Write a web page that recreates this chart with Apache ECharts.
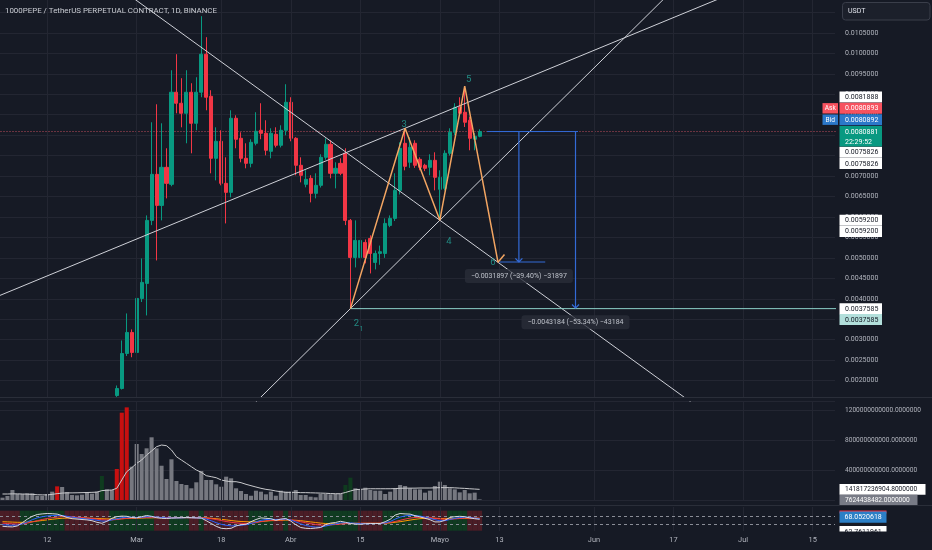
<!DOCTYPE html>
<html><head><meta charset="utf-8">
<script src="https://cdn.jsdelivr.net/npm/echarts@6/dist/echarts.min.js"></script>
<style>html,body{margin:0;padding:0;background:#161a25;}#c{width:932px;height:550px;}</style>
</head><body><div id="c"></div>
<script>
// ---------- axis / categories ----------
const START_DATE = [2024, 1, 3];      // 2024-02-03
const DAY_COUNT = 168;
const timeTicks = [['2024-02-12','12'],['2024-03-01','Mar'],['2024-03-18','18'],['2024-04-01','Abr'],['2024-04-15','15'],['2024-05-01','Mayo'],['2024-05-13','13'],['2024-06-01','Jun'],['2024-06-17','17'],['2024-07-01','Jul'],['2024-07-15','15']];
const titleText = '1000PEPE / TetherUS PERPETUAL CONTRACT, 1D, BINANCE';

// ---------- candles (1D) ----------
const open = [0.00112,0.00110,0.00108,0.00111,0.00110,0.00112,0.00111,0.00113,0.00114,0.00115,0.00121,0.00128,0.00124,0.00126,0.00125,0.00127,0.00129,0.00128,0.00131,0.00133,0.00136,0.00138,0.00142,
0.001634,0.001806,0.002662,0.003176,0.002687,0.004008,0.004375,0.005916,0.007042,0.006283,
0.007213,0.006797,0.009049,0.008780,0.008535,0.009049,0.008290,0.009049,0.009979,0.008951,
0.007434,0.007850,0.006822,0.006601,0.008413,0.007923,0.007434,0.007311,0.007801,0.008119,
0.008046,0.007605,0.008021,0.007752,0.008119,0.008804,0.007923,0.007263,0.006797,0.006944,
0.006577,0.006773,0.007458,0.007776,0.007067,0.007311,0.007556,0.005916,0.005010,0.005010,
0.005377,0.005475,0.004888,0.005108,0.005108,0.005793,0.005965,0.006650,0.007801,0.007336,
0.007801,0.007409,0.007263,0.007213,0.007385,0.006675,0.006699,0.007556,0.008070,0.008682,
0.008560,0.008364,0.007899,0.007972];
const close = [0.00110,0.00108,0.00111,0.00110,0.00112,0.00111,0.00113,0.00114,0.00115,0.00121,0.00128,0.00124,0.00126,0.00125,0.00127,0.00129,0.00128,0.00131,0.00133,0.00136,0.00138,0.00142,0.00146,
0.001806,0.002662,0.003176,0.002687,0.004008,0.004400,0.005916,0.007042,0.006283,0.007213,
0.006822,0.009049,0.008780,0.008535,0.009049,0.008290,0.009049,0.009979,0.008927,0.007434,
0.007850,0.006822,0.006601,0.008413,0.007899,0.007434,0.007311,0.007825,0.008095,0.008046,
0.007630,0.008046,0.007752,0.008119,0.008804,0.007923,0.007263,0.007018,0.006920,0.006577,
0.006773,0.007458,0.007776,0.007067,0.007189,0.007067,0.005916,0.005010,0.005426,0.005426,
0.005010,0.005108,0.005108,0.005150,0.005842,0.005965,0.006650,0.007679,0.007238,0.007703,
0.007263,0.007213,0.007189,0.007385,0.006969,0.006969,0.007556,0.008070,0.008682,0.008535,
0.008315,0.007923,0.007972,0.008088];
const high = [0.00115,0.00113,0.00113,0.00114,0.00114,0.00115,0.00115,0.00117,0.00118,0.00123,0.00131,0.00133,0.00128,0.00129,0.00129,0.00132,0.00131,0.00133,0.00135,0.00139,0.00141,0.00145,0.00149,
0.001879,0.002980,0.003641,0.003250,0.004326,0.004986,0.006038,0.008315,0.008755,0.008290,
0.007679,0.009587,0.009979,0.009392,0.009587,0.009269,0.009416,0.010909,0.010395,0.009098,
0.008192,0.008119,0.007458,0.008608,0.008486,0.008070,0.007801,0.007900,0.008560,0.008780,
0.008364,0.008168,0.008192,0.008241,0.009245,0.008927,0.007950,0.007458,0.007140,0.007020,
0.007067,0.007532,0.007923,0.007874,0.007336,0.007434,0.007679,0.005950,0.005916,0.005480,
0.005450,0.005550,0.005180,0.005300,0.005965,0.006038,0.007067,0.007825,0.008168,0.007948,
0.007874,0.007458,0.007300,0.007532,0.007581,0.007140,0.007630,0.008168,0.008780,0.008927,
0.009196,0.008450,0.008050,0.008144];
const low = [0.00107,0.00105,0.00105,0.00108,0.00107,0.00109,0.00108,0.00110,0.00111,0.00112,0.00118,0.00121,0.00122,0.00122,0.00123,0.00124,0.00125,0.00126,0.00128,0.00130,0.00133,0.00135,0.00139,
0.001600,0.001780,0.002600,0.002570,0.002650,0.003920,0.003592,0.005800,0.004937,0.005916,
0.006454,0.006750,0.008535,0.008192,0.007801,0.007556,0.008119,0.008927,0.008608,0.007067,
0.006895,0.006773,0.005842,0.006479,0.007679,0.007336,0.007189,0.007213,0.007750,0.007900,
0.007507,0.007434,0.007700,0.007700,0.007997,0.007850,0.007018,0.006846,0.006724,0.006357,
0.006454,0.006720,0.007400,0.006944,0.006699,0.007020,0.005800,0.0037585,0.004766,0.004766,
0.004864,0.004619,0.004717,0.004830,0.005000,0.005750,0.005900,0.006550,0.007140,0.007200,
0.007200,0.007140,0.007120,0.007018,0.006650,0.005920,0.006650,0.007500,0.008000,0.008500,
0.008200,0.007630,0.007630,0.007948];

// ---------- volume (billions) ----------
const volumeB = [31,53,133,80,80,89,89,53,53,80,111,182,173,107,67,62,71,107,84,111,
320,142,133,413,1164,1235,444,747,613,689,836,689,457,280,543,253,213,200,156,236,
387,267,267,209,177,311,289,156,120,80,57,124,111,76,111,57,124,111,111,133,
67,67,44,36,80,80,76,80,80,200,298,156,142,164,133,124,124,80,111,156,
200,187,156,142,142,98,124,187,244,200,156,142,102,133,89,98,7.6];
const volumeMAB = [80,80,82,82,80,78,75,70,68,68,75,85,92,95,95,96,98,100,102,105,
125,130,133,156,267,378,430,489,533,600,653,711,733,724,667,577,533,489,444,400,
369,324,311,297,267,253,244,244,231,209,191,173,156,142,133,120,111,102,102,102,
98,98,96,94,92,90,86,84,84,100,120,138,142,147,150,150,150,150,150,152,
156,158,158,158,160,160,160,162,165,165,165,162,158,155,150,146,142];
const volRedIdx = [11,23,24,25];
const volGreenIdx = [20,69,70];

// ---------- oscillator pane ----------
const oscWhite = [22,20,19,24,40,58,72,81,84,86,85,83,75,66,60,58,56,54,50,42,37,47,62,70,73,72,66,64,70,76,72,65,62,61,63,64,65,66,65,64,63,50,36,22,12,10,12,24,30,32,45,56,64,62,60,52,58,61,48,30,16,12,11,13,16,30,38,41,47,42,36,33,32,35,36,36,36,45,57,78,86,84,83,75,69,62,55,44,44,52,66,70,72,70,64,60,57];
const oscBlue = [30,28,27,28,34,44,55,64,70,74,76,77,76,72,68,64,61,58,56,52,48,48,54,60,65,68,67,66,67,70,70,68,66,64,64,64,64,65,65,64,64,58,50,40,32,27,24,25,27,30,36,44,52,56,58,56,57,58,54,44,34,26,21,18,18,23,29,34,39,40,39,37,35,35,35,36,36,40,46,58,68,74,77,76,73,68,62,55,50,50,56,62,66,68,66,63,60];
const oscRed = [38,36,34,33,34,38,44,50,56,61,65,68,70,70,69,67,65,63,61,58,55,53,54,56,59,62,63,64,65,66,67,67,66,65,65,65,65,65,65,65,65,63,60,56,51,46,42,39,37,36,37,40,45,49,52,53,54,55,54,50,45,40,35,31,28,28,29,31,33,35,36,37,37,37,37,37,37,38,41,46,52,58,63,66,67,67,65,62,59,57,57,59,61,63,63,63,62];
const oscOrange = [45,44,43,42,42,43,45,48,51,54,57,60,62,63,64,64,64,63,62,61,60,59,59,59,60,61,62,63,63,64,64,65,65,65,65,65,65,65,65,65,65,64,62,60,57,54,51,48,46,45,44,45,46,48,50,51,52,53,53,52,50,47,44,41,38,36,35,35,35,36,36,37,37,37,37,37,37,38,39,42,45,49,53,57,60,62,62,62,61,60,60,61,62,62,63,63,62];
const oscBands = 'rrrrgggggggggrrrrrrrrrgggggggggrrrggggrrgrrrrrrrrrgggggrrgrrrrrrrgggggggrrrrrggggggggrrrrrggggrrr';
const oscLevels = [70, 30];

// ---------- drawings (bar index, price) ----------
const lastPrice = 0.0080881;
const wavePoints = [[70,0.0037585],[81,0.008168],[88,0.00592],[93,0.009196],[99.7,0.00489]];
const waveTick = [[99.7,0.00489],[101,0.00508]];
const waveLabels = [['2',70,0.0037585,[6,15],9.5],['1',70,0.0037585,[11,21],7],['3',81,0.008168,[-1,-4],9.5],['4',88,0.00592,[9,21],9.5],['5',93,0.009196,[4,-7],9.5],['6',99.7,0.00489,[-5,0],9.5]];
const trendAnchors = [
  [[88,0.00592],[99.7,0.00489]],
  [[-0.5,0.004082],[81,0.008168]],
  [[70,0.0037585],[88,0.00592]]
];
const supportLevel = 0.0037585;
const supportStart = 70;
const measures = [
  {x:103.9, from:0.0080881, to:0.0048984, left:98.7, right:109.2, bottomLine:true, label:'\u22120.0031897 (\u221239.40%) \u221231897'},
  {x:115.29, from:0.0080881, to:0.0037697, left:97.5, right:115.8, bottomLine:false, label:'\u22120.0043184 (\u221253.34%) \u221243184'}
];
// right-scale tags: [value, text, bg, fg, nudge(px)]
const priceTags = [
  [0.0081888,'0.0081888','#ffffff','#131722',-30.4],
  [0.0080893,'0.0080893','#f7525f','#ffffff',-23.2,'Ask'],
  [0.0080892,'0.0080892','#2b78c9','#ffffff',-11.8,'Bid'],
  [0.0075826,'0.0075826','#ffffff','#131722',0],
  [0.0075826,'0.0075826','#ffffff','#131722',11.4],
  [0.0059200,'0.0059200','#ffffff','#131722',0],
  [0.0059200,'0.0059200','#ffffff','#131722',11.2],
  [0.0037585,'0.0037585','#ffffff','#131722',0],
  [0.0037585,'0.0037585','#b2dfdb','#131722',10.9]
];
const lastTime = '22:29:52';
const volTags = [[141.8172369048,'141817236904.8000000','#ffffff','#131722',0,86],[7.624438482,'7624438482.0000000','#787b86','#ffffff',0.6,78]];
const oscTags = [[68.0520618,'68.0520618','#2b7fc6','#ffffff',0],[62.7611961,'62.7611961','#ffffff','#131722',13.4]];

// ---------- build ----------
const categories = [];
for (let i = 0; i < DAY_COUNT; i++) {
  const d = new Date(Date.UTC(START_DATE[0], START_DATE[1], START_DATE[2] + i));
  categories.push(d.toISOString().slice(0, 10));
}
const tickMap = new Map(timeTicks);
const ohlc = open.map((o, i) => [o, close[i], low[i], high[i]]);

const GRID_COLOR = '#232632';
const FONT = 'Roboto';
const FS = 7.0;      // right scale tags
const FS_VOL = 6.6;  // volume scale
const FS_TIME = 7.4;
const MEASURE_BLUE = '#336ad6';

function extendLine(a, b, x0, x1) {
  const s = (b[1] - a[1]) / (b[0] - a[0]);
  return [[x0, a[1] + s * (x0 - a[0])], [x1, a[1] + s * (x1 - a[0])]];
}
function lineSeries(data, color, width, extra) {
  const base = {type:'line', xAxisIndex:1, yAxisIndex:0, data, symbol:'none', showSymbol:false, silent:true, clip:true, animation:false,
    itemStyle:{color}, lineStyle:{color, width}, emphasis:{disabled:true}, z:5};
  return Object.assign(base, extra || {});
}
function vGrid(xAxisIndex, yAxisIndex) {
  return {type:'line', xAxisIndex, yAxisIndex, data:[], silent:true, z:1, animation:false,
    markLine:{silent:true, symbol:'none', animation:false, label:{show:false}, lineStyle:{color:GRID_COLOR, width:1, type:'solid'},
      data: timeTicks.map(t => ({xAxis:t[0]}))}};
}

const series = [];
series.push(vGrid(0, 0));
// last price dotted line (under candles)
series.push(lineSeries([[-1, lastPrice],[DAY_COUNT, lastPrice]], '#c4505e', 1, {z:2, lineStyle:{color:'#c4505e', width:1, type:[1,2]}}));
series.push({type:'candlestick', xAxisIndex:0, yAxisIndex:0, data:ohlc, barWidth:3.6, clip:true, z:3,
  itemStyle:{color:'#089981', color0:'#f23645', borderColor:'#089981', borderColor0:'#f23645', borderWidth:1}});
// trend lines
trendAnchors.forEach(t => series.push(lineSeries(extendLine(t[0], t[1], -40, 220), '#cfd1d8', 1)));
// support
series.push(lineSeries([[supportStart, supportLevel],[220, supportLevel]], '#8ccfc8', 1));
// measures: one polyline per measure (top line, shaft, arrow head) + optional bottom line
measures.forEach(m => {
  series.push(lineSeries([[m.left, m.from],[m.right, m.from]], MEASURE_BLUE, 1, {z:7}));
  if (m.bottomLine) series.push(lineSeries([[m.left + 1.3, m.to],[m.right, m.to]], MEASURE_BLUE, 1, {z:7}));
  series.push(lineSeries([[m.x, m.from],[m.x, m.to],[m.x - 0.7, m.to + 0.00009]], MEASURE_BLUE, 1.2, {z:7}));
  series.push(lineSeries([[m.x, m.to],[m.x + 0.7, m.to + 0.00009]], MEASURE_BLUE, 1.2, {z:7}));
});
// zigzag
series.push(lineSeries(wavePoints, '#f3a562', 1.5, {z:6}));
series.push(lineSeries(waveTick, '#f3a562', 1.5, {z:6}));
// wave labels
series.push({type:'scatter', xAxisIndex:1, yAxisIndex:0, symbolSize:0, silent:true, z:8, animation:false,
  data: waveLabels.map(w => ({value:[w[1], w[2]], label:{show:true, position:'inside', formatter:w[0], offset:w[3], fontSize:w[4], color:'#26a69a', fontFamily:FONT}}))});
// measure labels
series.push({type:'scatter', xAxisIndex:1, yAxisIndex:0, symbolSize:0, silent:true, z:9, animation:false,
  data: measures.map(m => ({value:[m.x, m.to], label:{show:true, position:'inside', formatter:m.label, offset:[0,14],
    fontSize:FS, color:'#e0e3eb', fontFamily:FONT, backgroundColor:'rgba(42,46,57,0.96)', padding:[4,6,3,6], borderRadius:3}}))});

// volume
series.push(vGrid(2, 1));
series.push({type:'bar', xAxisIndex:2, yAxisIndex:1, barCategoryGap:'18%', z:3, animation:false,
  data: volumeB.map((v, i) => ({value:v, itemStyle:{color: volRedIdx.includes(i) ? '#c81010' : volGreenIdx.includes(i) ? '#0f3b1f' : '#767880'}}))});
series.push({type:'line', xAxisIndex:2, yAxisIndex:1, data:volumeMAB, symbol:'none', z:4, animation:false, lineStyle:{color:'#c8c9cc', width:1}});

// oscillator
series.push(vGrid(3, 2));
series.push({type:'bar', xAxisIndex:3, yAxisIndex:2, barCategoryGap:'0%', barWidth:'100%', z:2, animation:false,
  data: oscBands.split('').map(c => ({value:100, itemStyle:{color: c === 'r' ? '#4b1d26' : '#103b21'}}))});
series.push({type:'line', xAxisIndex:3, yAxisIndex:2, data:[], silent:true, z:3, animation:false,
  markLine:{silent:true, symbol:'none', animation:false, label:{show:false}, lineStyle:{color:'#8a8d97', type:[3,3], width:1},
    data: oscLevels.map(v => ({yAxis:v}))}});
[[oscOrange,'#ff9800'],[oscRed,'#f23645'],[oscBlue,'#2962ff'],[oscWhite,'#d6d8de']].forEach((p, k) => {
  series.push({type:'line', xAxisIndex:3, yAxisIndex:2, data:p[0], symbol:'none', z:4 + k, animation:false, lineStyle:{color:p[1], width:1}});
});

const catBase = {type:'category', data:categories, boundaryGap:true, axisLine:{show:false}, axisTick:{show:false}, axisLabel:{show:false}, splitLine:{show:false}};
const gridBase = {left:0, right:97, containLabel:false, outerBoundsMode:'none', show:false};

const option = {
  backgroundColor:'#161a25',
  animation:false,
  textStyle:{fontFamily:FONT},
  grid:[
    Object.assign({top:-8, height:409}, gridBase),
    Object.assign({top:401, height:99}, gridBase),
    Object.assign({top:507, height:24}, gridBase)
  ],
  xAxis:[
    Object.assign({gridIndex:0}, catBase),
    {type:'value', gridIndex:0, min:-0.5, max:DAY_COUNT - 0.5, show:false},
    Object.assign({gridIndex:1}, catBase),
    Object.assign({}, catBase, {gridIndex:2, axisLabel:{show:true, interval:(i, v) => tickMap.has(v), formatter:v => tickMap.get(v) || '',
      color:'#b2b5be', fontSize:FS_TIME, fontFamily:FONT, margin:6}})
  ],
  yAxis:[
    {gridIndex:0, type:'value', position:'right', min:0.0015, max:0.0115, interval:0.0005, axisLine:{show:false}, axisTick:{show:false},
      splitLine:{show:true, lineStyle:{color:GRID_COLOR, width:1}},
      axisLabel:{color:'#b2b5be', fontSize:FS, fontFamily:FONT, margin:10, showMinLabel:false, showMaxLabel:false, formatter:v => v.toFixed(7)}},
    {gridIndex:1, type:'value', position:'right', min:0, max:1320, interval:400, axisLine:{show:false}, axisTick:{show:false},
      splitLine:{show:true, lineStyle:{color:GRID_COLOR, width:1}},
      axisLabel:{color:'#b2b5be', fontSize:FS_VOL, fontFamily:FONT, margin:10, showMinLabel:false, showMaxLabel:false, formatter:v => (v * 1e9).toFixed(7)}},
    {gridIndex:2, type:'value', position:'right', min:-1.5, max:118.5, show:false, splitLine:{show:false}}
  ],
  series
};

const chart = echarts.init(document.getElementById('c'), null, {renderer:'canvas', width:932, height:550});
chart.setOption(option);

// ---------- overlay texts & tags ----------
const g = [];
function txt(x, y, text, fill, size, align) {
  g.push({type:'text', x, y, z:110, silent:true, style:{text, fill, font: size + 'px ' + FONT, align: align || 'left', verticalAlign:'middle', textAlign: align || 'left', textVerticalAlign:'middle'}});
}
function box(x, y, w, h, fill, stroke, r) {
  g.push({type:'rect', z:105, silent:true, shape:{x, y, width:w, height:h, r: r || 0}, style:{fill, stroke: stroke || null, lineWidth: stroke ? 1 : 0}});
}
// covers & separators
box(0, 397, 835, 4, '#161a25');
g.push({type:'line', z:106, silent:true, shape:{x1:0, y1:397.5, x2:932, y2:397.5}, style:{stroke:'#2a2e39', lineWidth:1}});
g.push({type:'line', z:106, silent:true, shape:{x1:0, y1:505.5, x2:932, y2:505.5}, style:{stroke:'#2a2e39', lineWidth:1}});

// title
txt(5, 11, titleText, '#c9ccd3', 7.9);
// USDT
box(842.5, 2.5, 87.5, 17.5, '#1c202b', '#3a3e4a', 3);
txt(848, 11.5, 'USDT', '#e0e3eb', FS);

const X0 = 839.5;
priceTags.forEach(t => {
  const y = chart.convertToPixel({yAxisIndex:0}, t[0]) + t[4];
  box(X0, y - 5.5, 42.5, 11, t[2]);
  txt(X0 + 5.5, y + 0.3, t[1], t[3], FS);
  if (t[5]) { box(822.5, y - 5.2, 15.5, 10.4, t[2]); txt(830.2, y + 0.3, t[5], t[3], 6.6, 'center'); }
});
{ // last price with countdown
  const y = chart.convertToPixel({yAxisIndex:0}, lastPrice);
  box(X0, y - 5.5, 42.5, 20.5, '#089981');
  txt(X0 + 5.5, y + 0.3, lastPrice.toFixed(7), '#ffffff', FS);
  txt(X0 + 5.5, y + 10.3, lastTime, '#ffffff', FS);
}
volTags.forEach(t => {
  const y = chart.convertToPixel({yAxisIndex:1}, t[0]) + t[4];
  box(X0, y - 5.3, t[5], 10.6, t[2]);
  txt(X0 + 5.5, y + 0.3, t[1], t[3], FS_VOL);
});
box(X0, 510.5, 47, 3, '#f23645');
oscTags.slice().reverse().forEach(t => {
  const y = chart.convertToPixel({yAxisIndex:2}, t[0]) + t[4];
  box(X0, y - 5.6, 47, 11.2, t[2]);
  txt(X0 + 5, y + 0.3, t[1], t[3], FS);
});
box(835, 531.5, 97, 18.5, '#161a25');
chart.setOption({graphic:{elements:g}});
</script>
</body></html>
